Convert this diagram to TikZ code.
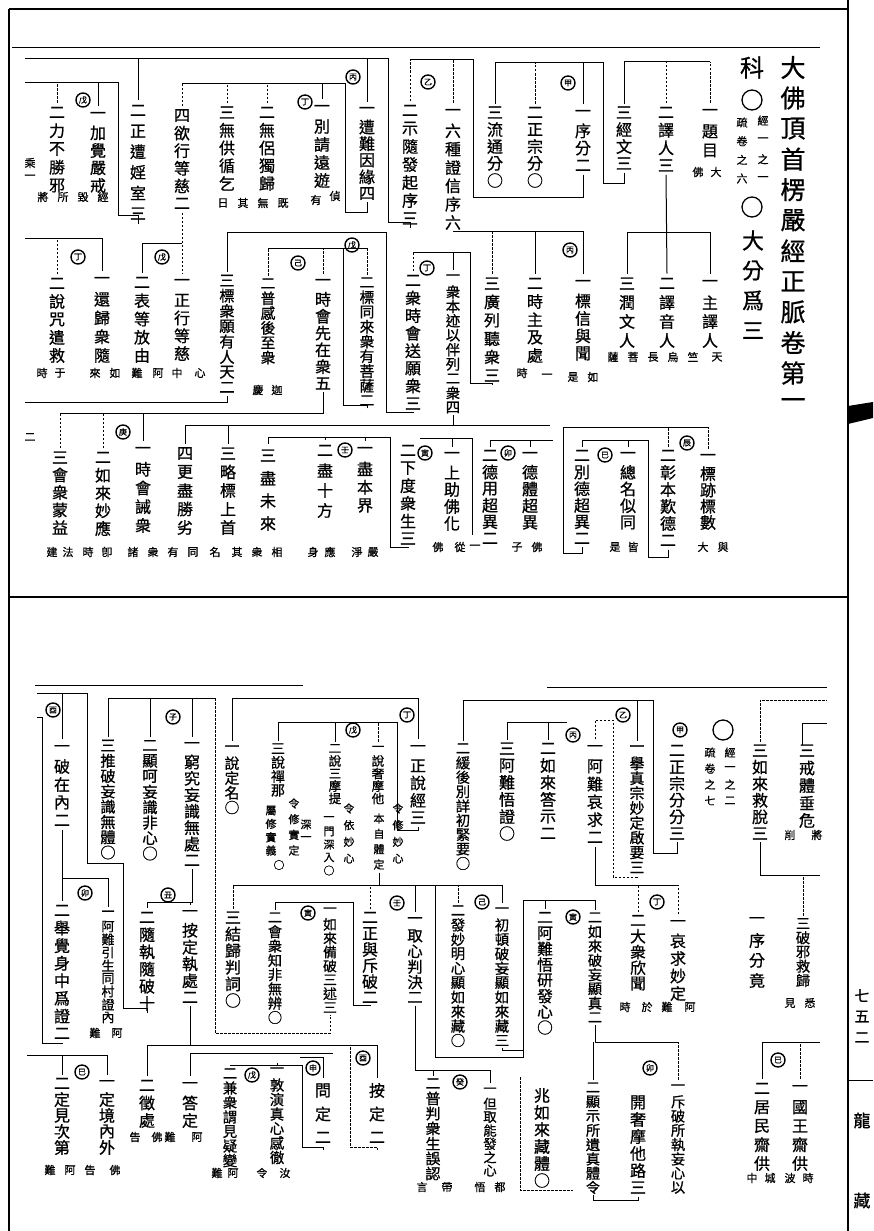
\documentclass[tikz,border=0pt]{standalone}
\usepackage{fontspec}
\newfontfamily\cjk{Noto Sans CJK TC}[FakeBold=0.8]
\newcount\vtn
\newdimen\vtstepd
\def\vtcountaux#1{\ifx\relax#1\else\advance\vtn by 1 \expandafter\vtcountaux\fi}
\def\vtaux#1{\ifx\relax#1\else\vbox to\vtstepd{\vss\hbox to 1.2em{\hss#1\hss}\vss}\expandafter\vtaux\fi}
% \vc[size]{name}{x}{y first}{y last}{text}
\newcommand\vc[6][16]{%
  \vtn=0 \vtcountaux#6\relax
  \ifnum\vtn>1 \pgfmathsetmacro\vtst{(#5-#4)/(\the\vtn-1)}\else\def\vtst{#1}\fi
  \pgfmathsetmacro\vtfs{min(#1,\vtst)}%
  \node[inner sep=0pt,anchor=north,font=\cjk\fontsize{\vtfs}{\vtfs}\selectfont] (#2) at (#3,{#4-\vtst/2})
    {\vtstepd=\vtst pt\relax\vbox{\offinterlineskip\vtaux#6\relax}};}
\newcommand\nt[4]{\node[nte] (#1) at (#2,#3) {#4};}
\newcommand\cc[4]{\node[circ] (#1) at (#2,#3) {#4};}
\newcommand\dr[3][]{\draw[#1] (#2.north) -- (#2.north |- 0,#3);}
\tikzset{
  nte/.style={inner sep=0pt,font=\cjk\fontsize{11}{11}\selectfont},
  circ/.style={circle,draw,line width=1.4pt,inner sep=0pt,minimum size=14pt,font=\cjk\fontsize{8}{8}\selectfont},
  bigo/.style={circle,draw,line width=1.3pt,minimum size=20pt,inner sep=0pt},
  dl/.style={dash pattern=on 2.5pt off 1.5pt}
}
\begin{document}
\begin{tikzpicture}[x=1pt,y=-1pt,line width=1pt]
\useasboundingbox (0,0) rectangle (873,1231);
\fill[white] (0,0) rectangle (873,1231);
% frame
\draw[line width=1.2pt] (9,9) -- (848,9);
\draw[line width=0.9pt] (12,47) -- (820,47);
\draw[line width=1.2pt] (9,9) -- (9,1231);
\draw[line width=1.3pt] (848,0) -- (848,1231);
\draw[line width=1.4pt] (9,597) -- (848,597);
\fill (848,406) -- (873,402) -- (873,418) -- (848,424) -- cycle;
\vc[15]{pg}{862}{995}{1037}{七五二}
\draw (848,1080) -- (873,1080);
\vc[17]{lg}{862}{1120}{1120}{龍}
\vc[17]{zg}{862}{1200}{1200}{藏}

% ================= TOP PANEL =================
\vc[25]{title}{793}{67}{403}{大佛頂首楞嚴經正脈卷第一}
\vc[24]{ke}{752}{67}{67}{科}
\node[bigo] (o1) at (752,100) {};
\vc[11]{s1}{763}{120}{178}{經一之一}
\vc[11]{s2}{742}{122}{178}{疏卷之六}
\node[bigo] (o2) at (752,207) {};
\vc[22]{dafen}{753}{240}{330}{大分爲三}

% row 1
\vc{r1a}{710}{112}{150}{一題目}
\vc{r1b}{666}{112}{165}{二譯人三}
\vc{r1c}{624}{112}{163}{三經文三}
\vc{r1d}{583}{113}{165}{一序分二}
\vc{r1e}{535}{112}{180}{二正宗分○}
\vc{r1f}{495}{112}{180}{三流通分○}
\vc{r1g}{453}{112}{222}{一六種證信序六}
\vc{r1h}{410}{110}{218}{二示隨發起序三}
\vc{r1i}{367}{110}{193}{一遭難因緣四}
\vc{r1j}{322}{108}{180}{一別請遠遊}
\vc{r1k}{267}{112}{183}{二無侶獨歸}
\vc{r1l}{227}{112}{183}{三無供循乞}
\vc{r1m}{182}{115}{203}{四欲行等慈二}
\vc{r1n}{138}{110}{213}{二正遭婬室三}
\vc{r1o}{98}{115}{185}{一加覺嚴戒}
\vc{r1p}{57}{112}{185}{二力不勝邪}
\nt{na1}{716}{172}{大}\nt{na2}{698}{172}{佛}
\nt{na3}{316}{200}{有}\nt{na4}{335}{196}{偵}
\nt{na5}{283}{203}{既}\nt{na6}{263}{203}{無}
\nt{na7}{243}{203}{其}\nt{na8}{223}{203}{日}
\nt{na9}{43}{197}{將}\nt{na10}{63}{197}{所}\nt{na11}{83}{197}{毀}\nt{na12}{103}{197}{經}
\nt{na13}{30}{163}{乘}\nt{na14}{30}{177}{一}
\cc{c1}{428}{82}{乙}\cc{c2}{568}{83}{甲}\cc{c3}{353}{77}{丙}\cc{c4}{305}{102}{丁}\cc{c5}{83}{100}{戊}

% row 1 connectors
\draw (r1c.north |- 0,62) -- (r1a.north |- 0,62);
\dr[dl]{r1a}{62}\dr[dl]{r1b}{62}\dr{r1c}{62}
\draw (r1c.south) |- (603,183) |- (r1f.north |- 0,63);
\dr{r1d}{63}\dr[dl]{r1e}{63}\dr{r1f}{63}
\draw (r1d.south) |- (473,197) |- (r1h.north |- 0,60);
\dr[dl]{r1g}{60}\dr[dl]{r1h}{60}
\draw (r1h.south) |- (388,222) |- (25,59);
\dr{r1i}{59}\dr{r1n}{59}
\draw (r1i.south) |- (345,212) |- (r1m.north |- 0,83);
\dr{r1j}{83}\dr[dl]{r1k}{83}\dr[dl]{r1l}{83}\dr[dl]{r1m}{83}
\draw (r1n.south) |- (118,215) |- (25,82);
\dr{r1o}{82}\dr[dl]{r1p}{82}

% row 2
\vc{r2a}{710}{283}{340}{一主譯人}
\vc{r2b}{667}{283}{340}{二譯音人}
\vc{r2c}{627}{283}{340}{三潤文人}
\vc{r2d}{583}{283}{353}{一標信與聞}
\vc{r2e}{535}{283}{355}{二時主及處}
\vc{r2f}{492}{283}{375}{三廣列聽衆三}
\vc[15]{r2g}{453}{277}{407}{一衆本迹以伴列二衆四}
\vc{r2h}{413}{280}{403}{二衆時會送願衆三}
\vc{r2i}{227}{280}{387}{三標衆願有人天二}
\vc{r2j}{182}{282}{353}{一正行等慈}
\vc{r2k}{142}{282}{355}{二表等放由}
\vc{r2l}{102}{280}{355}{一還歸衆隨}
\vc{r2m}{57}{283}{355}{二說咒遣救}
\vc{r2n}{268}{283}{357}{二普感後至衆}
\vc{r2o}{323}{282}{383}{一時會先在衆五}
\vc[15]{r2p}{367}{282}{400}{二標同來衆有菩薩二}
\nt{nb1}{717}{357}{天}\nt{nb2}{693}{357}{竺}\nt{nb3}{673}{357}{烏}\nt{nb4}{653}{357}{長}
\nt{nb5}{633}{357}{菩}\nt{nb6}{613}{357}{薩}\nt{nb7}{593}{377}{如}\nt{nb8}{573}{377}{是}
\nt{nb9}{547}{376}{一}\nt{nb10}{522}{373}{時}
\nt{nb11}{200}{373}{心}\nt{nb12}{177}{373}{中}\nt{nb13}{158}{373}{阿}\nt{nb14}{137}{373}{難}
\nt{nb15}{115}{373}{如}\nt{nb16}{95}{373}{來}\nt{nb17}{60}{373}{于}\nt{nb18}{42}{373}{時}
\nt{nb19}{277}{390}{迦}\nt{nb20}{258}{390}{慶}
\cc{c6}{570}{250}{丙}\cc{c7}{427}{268}{丁}\cc{c8}{162}{257}{戊}\cc{c9}{78}{257}{丁}
\cc{c10}{298}{263}{己}\cc{c11}{352}{245}{戊}

% row 2 connectors
\draw (r1b.south) -- (r2b.north);
\draw (r2c.north |- 0,232) -- (r2a.north |- 0,232);
\dr{r2a}{232}\dr{r2c}{232}
\draw (r1g.south) |- (r2d.north |- 0,231);
\dr{r2d}{231}\dr{r2e}{231}\dr[dl]{r2f}{231}
\draw (r2f.south) |- (470,383) |- (r2h.north |- 0,252);
\dr{r2g}{252}\dr[dl]{r2h}{252}
\draw (r2h.south) |- (386,412) |- (r2i.north |- 0,232);
\dr{r2i}{232}
\draw[dl] (r1m.south) -- (r2j.north);
\draw (r2j.north |- 0,243) -| (r2k.north);
\draw (25,238) -| (r2l.north);
\dr[dl]{r2m}{238}
\draw (r2n.north |- 0,248) -- (r2p.north |- 0,248);
\dr[dl]{r2n}{248}\dr[dl]{r2o}{248}\dr[dl]{r2p}{248}
\draw (r2p.south) |- (343,405) -- (343,248);
\draw (r2i.south) |- (25,402);

% row 3
\vc{r3a}{60}{457}{527}{三會衆蒙益}
\vc{r3b}{103}{457}{528}{二如來妙應}
\vc{r3c}{143}{450}{525}{一時會誡衆}
\vc{r3d}{185}{453}{527}{四更盡勝劣}
\vc{r3e}{228}{453}{527}{三略標上首}
\vc{r3f}{268}{455}{523}{三盡未來}
\vc{r3g}{325}{450}{510}{二盡十方}
\vc{r3h}{365}{450}{505}{一盡本界}
\vc{r3i}{408}{450}{538}{二下度衆生三}
\vc{r3j}{452}{455}{523}{一上助佛化}
\vc{r3k}{490}{455}{538}{二德用超異二}
\vc{r3l}{530}{455}{522}{一德體超異}
\vc{r3m}{582}{455}{538}{二別德超異二}
\vc{r3n}{628}{455}{522}{一總名似同}
\vc{r3o}{668}{455}{540}{二彰本歎德二}
\vc{r3p}{708}{457}{522}{一標跡標數}
\nt{nc0}{30}{437}{二}
\nt{nc1}{52}{552}{建}\nt{nc2}{68}{552}{法}\nt{nc3}{88}{552}{時}\nt{nc4}{107}{552}{卽}
\nt{nc5}{133}{552}{諸}\nt{nc6}{153}{552}{衆}\nt{nc7}{173}{552}{有}\nt{nc8}{193}{552}{同}
\nt{nc9}{215}{552}{名}\nt{nc10}{237}{552}{其}\nt{nc11}{257}{552}{衆}\nt{nc12}{277}{552}{相}
\nt{nc13}{313}{552}{身}\nt{nc14}{330}{552}{應}\nt{nc15}{357}{552}{淨}\nt{nc16}{373}{552}{嚴}
\nt{nc17}{438}{547}{佛}\nt{nc18}{460}{547}{從}\nt{nc19}{475}{547}{一}
\nt{nc20}{517}{547}{子}\nt{nc21}{537}{547}{佛}
\nt{nc22}{615}{547}{是}\nt{nc23}{633}{547}{皆}
\nt{nc24}{703}{547}{大}\nt{nc25}{723}{547}{與}
\cc{c12}{123}{432}{庚}\cc{c13}{345}{450}{壬}\cc{c14}{425}{453}{寅}\cc{c15}{508}{453}{卯}
\cc{c16}{687}{443}{辰}\cc{c17}{605}{455}{巳}

% row 3 connectors
\draw (r2o.south) |- (r3a.north |- 0,413);
\dr[dl]{r3a}{413}\dr[dl]{r3b}{413}\dr{r3c}{413}
\draw (r3d.north |- 0,425) -- (550,425);
\dr{r3d}{425}\dr{r3e}{425}
\draw (r2g.south) -- (r2g.south |- 0,425);
\draw (r3f.north |- 0,437) -- (390,437);
\dr{r3f}{437}\dr{r3g}{437}\dr{r3h}{437}
\draw (r3i.south) |- (390,547) -- (390,437);
\draw (420,438) -| (472,535);
\dr{r3j}{438}
\draw (r3k.north |- 0,440) -- (553,440);
\dr{r3k}{440}\dr{r3l}{440}
\draw (r3m.south) |- (563,553) -- (563,427) -- (r3p.north |- 0,427);
\dr[dl]{r3o}{427}\dr[dl]{r3p}{427}
\draw (r3o.south) |- (648,557) |- (r3m.north |- 0,440);
\dr{r3m}{440}\dr{r3n}{440}

% ================= BOTTOM PANEL =================
\draw (35,685) -- (303,685);
\draw (547,687) -- (827,687);

\vc{b1}{62}{748}{820}{一破在內二}
\vc{b2}{108}{745}{852}{三推破妄識無體○}
\vc{b3}{150}{745}{853}{二顯呵妄識非心○}
\vc{b4}{192}{745}{860}{一窮究妄識無處二}
\vc{b5}{232}{748}{807}{一說定名○}
\vc{b6}{418}{748}{817}{一正說經三}
\vc{b7}{378}{748}{798}{一說奢摩他}
\vc[11]{b7n1}{398}{808}{858}{令修妙心}
\vc[11]{b7n2}{379}{818}{864}{本自體定}
\vc{b8}{335}{748}{798}{二說三摩提}
\vc[11]{b8n1}{349}{808}{858}{令依妙心}
\vc[11]{b8n2}{329}{818}{870}{一門深入○}
\vc[11]{b8n3}{306}{824}{838}{深一}
\vc{b9}{278}{748}{790}{三說禪那}
\vc[11]{b9n1}{294}{803}{850}{令修實定}
\vc[11]{b9n2}{271}{810}{850}{屬修實義}
\nt{b9n3}{279}{865}{○}
\vc{b25}{637}{748}{867}{一擧真宗妙定啟要三}
\vc{b26}{463}{748}{863}{二緩後別詳初緊要○}
\vc{b27}{677}{750}{833}{二正宗分分三}
\vc{b28}{595}{748}{837}{一阿難哀求二}
\vc{b29}{548}{748}{833}{二如來答示二}
\vc{b30}{507}{748}{833}{三阿難悟證○}
\vc{b33}{760}{750}{833}{三如來救脫三}
\vc{b35}{807}{750}{820}{三戒體垂危}
\nt{nd1}{790}{835}{削}\nt{nd2}{817}{835}{將}
\node[bigo] (o3) at (723,730) {};
\vc[11]{s3}{730}{752}{800}{經一之二}
\vc[11]{s4}{710}{752}{800}{疏卷之七}
\cc{d1}{53}{710}{酉}\cc{d2}{173}{717}{子}\cc{d3}{407}{715}{丁}\cc{d4}{353}{730}{戊}
\cc{d5}{623}{715}{乙}\cc{d6}{573}{735}{丙}\cc{d7}{680}{730}{甲}

% row 4 / 5
\vc{b39}{62}{910}{1033}{二舉覺身中爲證二}
\vc{b40}{108}{913}{1017}{一阿難引生同村證內}
\nt{ne1}{95}{1033}{難}\nt{ne2}{117}{1033}{阿}
\vc{b41}{147}{917}{1003}{二隨執隨破十}
\vc{b42}{190}{913}{997}{一按定執處二}
\vc{b10}{233}{917}{1000}{三結歸判詞○}
\vc{b11}{275}{917}{1017}{二會衆知非無辨○}
\vc{b12}{330}{910}{1007}{一如來備破三述三}
\vc{b13}{370}{917}{997}{二正與斥破二}
\vc{b14}{415}{920}{997}{一取心判決二}
\vc[15]{b15}{458}{910}{1040}{二發妙明心顯如來藏○}
\vc[15]{b16}{502}{910}{1040}{一初頓破妄顯如來藏三}
\vc{b17}{545}{917}{1027}{二阿難悟研發心○}
\vc{b18}{595}{917}{1017}{二如來破妄顯真二}
\vc{b31}{678}{923}{993}{一哀求妙定}
\vc{b32}{638}{920}{983}{二大衆欣聞}
\nt{ne3}{690}{1007}{阿}\nt{ne4}{667}{1007}{難}\nt{ne5}{647}{1007}{於}\nt{ne6}{625}{1007}{時}
\vc{b36}{757}{920}{980}{一序分竟}
\vc{b34}{803}{923}{980}{三破邪救歸}
\nt{ne7}{790}{1003}{見}\nt{ne8}{810}{1003}{悉}
\cc{d8}{85}{893}{卯}\cc{d9}{168}{895}{丑}\cc{d10}{308}{913}{寅}\cc{d11}{397}{903}{壬}
\cc{d12}{482}{902}{己}\cc{d13}{573}{917}{寅}\cc{d14}{657}{902}{丁}

\vc{b43}{147}{1085}{1120}{二徵處}
\vc{b44}{190}{1085}{1120}{一答定}
\nt{nf1}{135}{1137}{告}\nt{nf2}{157}{1137}{佛}\nt{nf3}{170}{1137}{難}\nt{nf4}{197}{1137}{阿}
\vc{b45}{377}{1090}{1137}{按定二}
\vc{b46}{323}{1090}{1137}{問定二}
\vc{b47}{277}{1070}{1157}{一敦演真心感徹}
\vc{b48}{230}{1073}{1160}{二兼衆謂見疑變}
\nt{nf5}{285}{1173}{汝}\nt{nf6}{262}{1173}{令}\nt{nf7}{233}{1173}{阿}\nt{nf8}{217}{1173}{難}
\vc{b49}{62}{1083}{1147}{二定見次第}
\vc{b50}{107}{1083}{1147}{一定境內外}
\nt{nf9}{50}{1170}{難}\nt{nf10}{70}{1170}{阿}\nt{nf11}{90}{1170}{告}\nt{nf12}{115}{1170}{佛}
\vc{b23}{433}{1083}{1173}{二普判衆生誤認}
\vc{b24}{490}{1090}{1170}{一但取能發之心}
\nt{nf13}{422}{1187}{言}\nt{nf14}{447}{1187}{帶}\nt{nf15}{480}{1187}{悟}\nt{nf16}{500}{1187}{都}
\vc{b22}{542}{1095}{1180}{兆如來藏體○}
\vc{b19}{593}{1087}{1187}{二顯示所遺真體令}
\vc{b20}{638}{1102}{1187}{開奢摩他路三}
\vc{b21}{678}{1087}{1187}{一斥破所執妄心以}
\vc{b37}{762}{1088}{1163}{二居民齋供}
\vc{b38}{800}{1088}{1163}{一國王齋供}
\nt{nf17}{752}{1178}{中}\nt{nf18}{770}{1178}{城}\nt{nf19}{790}{1178}{波}\nt{nf20}{808}{1178}{時}
\cc{d15}{460}{1082}{癸}\cc{d16}{650}{1068}{卯}\cc{d17}{778}{1060}{巳}\cc{d18}{82}{1072}{巳}
\cc{d19}{252}{1075}{戊}\cc{d20}{313}{1068}{申}\cc{d21}{363}{1058}{酉}

% bottom connectors
\draw (37,693) -| (87,863) -| (123,1008) -- (b41.south |- 0,1008) -- (b41.south);
\dr{b1}{693}
\draw (37,717) -- (42,717) -- (42,1043) -| (b39.south);
\draw (b2.north |- 0,698) -- (215,698);
\dr{b2}{698}\dr{b3}{698}\dr{b4}{698}
\draw[dl] (215,698) -- (215,1033) -| (b12.south);
\draw (b4.south) -- (b4.south |- 0,902) -| (b41.north);
\draw (b42.north |- 0,902) -- (b42.north);
\draw (b5.north |- 0,698) -- (b6.north |- 0,698);
\dr{b5}{698}\dr{b6}{698}
\draw (b6.south) |- (397,830) |- (b9.north |- 0,722);
\dr{b9}{722}\dr{b8}{722}\dr[dl]{b7}{722}
\draw (b7n2.south) -- (b7n2.south |- 0,885);
\draw (b10.north |- 0,885) -- (435,885) -- (b16.north |- 0,885);
\dr[dl]{b10}{885}\dr[dl]{b13}{885}\dr{b14}{885}\dr[dl]{b15}{885}\dr{b16}{885}
\draw (435,885) -- (435,1057) -- (523,1057) -- (523,900) -- (b18.north |- 0,900);
\draw (b16.south) |- (523,1050);
\dr{b17}{900}\dr{b18}{900}
\draw (b11.north |- 0,902) -- (353,902);
\dr{b11}{902}\dr{b12}{902}
\draw (b13.south) |- (353,1005) -- (353,902);
\draw (b14.south) |- (b24.north |- 0,1070);
\dr{b23}{1070}\dr{b24}{1070}
\draw[dl] (520,1077) -- (520,1190) -- (573,1190);
\draw (b18.south) |- (b21.north |- 0,1042);
\dr{b19}{1042}\dr[dl]{b21}{1042}
\draw (b19.south) -- ++(0,5) -| (b20.south);
\draw (b26.north |- 0,700) -- (653,700) -- (653,853) -| (b27.south);
\dr{b26}{700}\dr{b25}{700}
\draw (b30.north |- 0,722) -- (567,722);
\dr{b30}{722}\dr{b29}{722}
\draw[dl] (b28.north) -- (b28.north |- 0,720) -- (613,720) -- (613,877) -| (b25.south);
\draw (b28.south) |- (b31.north |- 0,885);
\dr[dl]{b31}{885}\dr[dl]{b32}{885}
\draw[dl] (b33.north) -- (b33.north |- 0,700) -- (827,700);
\draw (b33.south) |- (820,875);
\dr[dl]{b34}{875}
\draw (802,745) -- (802,723) -- (827,723);
\draw (b37.north) -- (b37.north |- 0,1042) -- (820,1042);
\dr[dl]{b38}{1042}
\draw (b43.north) -- (b43.north |- 0,1045) -- (b45.north |- 0,1045) -- (b45.north);
\draw (b42.south) -- (b42.south |- 0,1045);
\draw (b44.north) -- (b44.north |- 0,1053) -- (333,1053);
\draw[dl] (350,1047) -- (350,1147) -| (b45.south);
\draw (302,1065) -- (302,1147) -| (b46.south);
\draw (300,1057) -| (b46.north);
\draw (b48.north) -- (b48.north |- 0,1065) -- (302,1065);
\dr{b47}{1065}
\draw (27,1055) -| (b50.north);
\dr{b49}{1055}
\draw (b1.south) |- (b40.north |- 0,878) -- (b40.north);
\dr{b39}{878}
\end{tikzpicture}
\end{document}
